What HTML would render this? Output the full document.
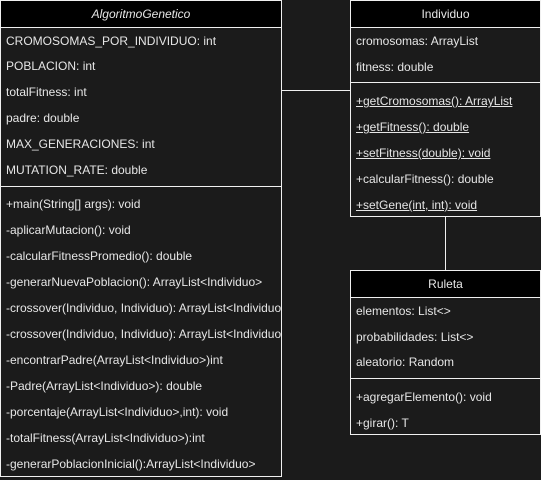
<!DOCTYPE html>
<html><head><meta charset="utf-8"><style>
body{margin:0;width:541px;height:480px;background:#1b1b1b;position:relative;overflow:hidden;font-family:"Liberation Sans",Arial,sans-serif;font-size:12px;color:#e6e6e6}
.b{position:absolute;border:1px solid #f0f0f0;box-sizing:border-box;background:#1b1b1b}
.h{position:absolute;left:0;right:0;top:0;height:26px;background:#000;border-bottom:1px solid #f0f0f0;text-align:center;line-height:26px}
.s{position:absolute;left:0;right:0;border-top:1px solid #f0f0f0}
.t{position:absolute;left:5px;white-space:nowrap;line-height:14px}
.u{text-decoration:underline}
.l{position:absolute;background:#f0f0f0}
</style></head><body>
<div class="l" style="left:281px;top:90px;width:69px;height:1px"></div>
<div class="l" style="left:445px;top:216px;width:1px;height:54px"></div>
<div class="b" style="left:0;top:0;width:282px;height:477px;overflow:hidden">
<div class="h" style="font-style:italic">AlgoritmoGenetico</div>
<div class="t" style="top:33px">CROMOSOMAS_POR_INDIVIDUO: int</div>
<div class="t" style="top:58px">POBLACION: int</div>
<div class="t" style="top:84px">totalFitness: int</div>
<div class="t" style="top:110px">padre: double</div>
<div class="t" style="top:136px">MAX_GENERACIONES: int</div>
<div class="t" style="top:162px">MUTATION_RATE: double</div>
<div class="s" style="top:185px"></div>
<div class="t" style="top:196px">+main(String[] args): void</div>
<div class="t" style="top:222px">-aplicarMutacion(): void</div>
<div class="t" style="top:248px">-calcularFitnessPromedio(): double</div>
<div class="t" style="top:274px">-generarNuevaPoblacion(): ArrayList&lt;Individuo&gt;</div>
<div class="t" style="top:300px">-crossover(Individuo, Individuo): ArrayList&lt;Individuo&gt;</div>
<div class="t" style="top:326px">-crossover(Individuo, Individuo): ArrayList&lt;Individuo&gt;</div>
<div class="t" style="top:352px">-encontrarPadre(ArrayList&lt;Individuo&gt;)int</div>
<div class="t" style="top:378px">-Padre(ArrayList&lt;Individuo&gt;): double</div>
<div class="t" style="top:404px">-porcentaje(ArrayList&lt;Individuo&gt;,int): void</div>
<div class="t" style="top:430px">-totalFitness(ArrayList&lt;Individuo&gt;):int</div>
<div class="t" style="top:456px">-generarPoblacionInicial():ArrayList&lt;Individuo&gt;</div>
</div>
<div class="b" style="left:350px;top:0;width:191px;height:217px">
<div class="h">Individuo</div>
<div class="t" style="top:33px">cromosomas: ArrayList</div>
<div class="t" style="top:59px">fitness: double</div>
<div class="s" style="top:81px"></div>
<div class="t u" style="top:93px">+getCromosomas(): ArrayList</div>
<div class="t u" style="top:119px">+getFitness(): double</div>
<div class="t u" style="top:145px">+setFitness(double): void</div>
<div class="t" style="top:171px">+calcularFitness(): double</div>
<div class="t u" style="top:197px">+setGene(int, int): void</div>
</div>
<div class="b" style="left:350px;top:270px;width:191px;height:165px">
<div class="h">Ruleta</div>
<div class="t" style="top:33px">elementos: List&lt;&gt;</div>
<div class="t" style="top:59px">probabilidades: List&lt;&gt;</div>
<div class="t" style="top:84px">aleatorio: Random</div>
<div class="s" style="top:107px"></div>
<div class="t" style="top:119px">+agregarElemento(): void</div>
<div class="t" style="top:145px">+girar(): T</div>
</div>
</body></html>
